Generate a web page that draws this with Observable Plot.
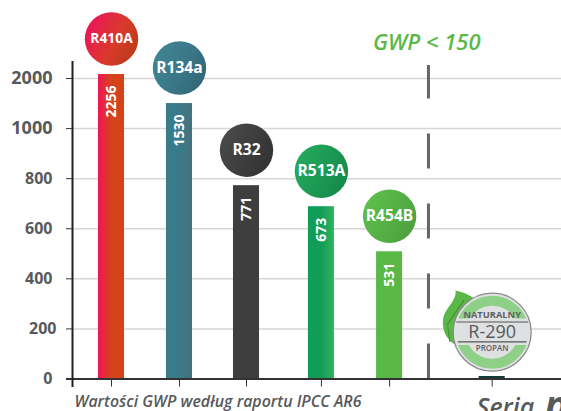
<!DOCTYPE html>
<html><head><meta charset="utf-8">
<script src="https://cdn.jsdelivr.net/npm/d3@7"></script>
<script src="https://cdn.jsdelivr.net/npm/@observablehq/plot@0.6"></script>
<style>html,body{margin:0;padding:0;background:#fff}svg{display:block}</style>
</head><body><div id="chart"></div>
<script>
const names = ["R410A","R134a","R32","R513A","R454B"];
const gwpLabels = [2256,1530,771,673,531];
const barTops = [2080,1500,772,688,508];
const slots = [0,1.007,2,3.11,4.12];
const naturalSlot = 5.64;
const naturalTop = 10;
const dividerSlot = 4.696;
const yTicks = [0,200,400,600,800,1000,2000];
const barGradients = [["#ef1458","#d5431b","#d5431b"],["#3a7b8a","#3a7b8a","#46707c"],["#3e3e3e","#3e3e3e","#3e3e3e"],["#119c58","#119c58","#2eb35e"],["#5ab847","#5ab847","#5ab847"]];
const dotGradients = [["#ea1a55","#d93a2a","#b03c16"],["#3f8393","#397686","#2f6272"],["#484848","#3c3c3c","#303030"],["#23a85c","#1b9753","#128448"],["#5cbd4a","#54ae44","#4a9c3c"]];

// the axis is not linear: its ticks are evenly spaced, so values are placed by tick level
const level = d3.scaleLinear(yTicks, yTicks.map((_,i)=>i));
const rows = names.map((name,i)=>({name,label:gwpLabels[i],top:level(barTops[i]),slot:slots[i],i}));
const halfBar = 0.193;

function defs(){
  const d = d3.create("svg:defs");
  const add=(id,stops,x1,y1,x2,y2)=>{
    const g=d.append("linearGradient").attr("id",id).attr("x1",x1).attr("y1",y1).attr("x2",x2).attr("y2",y2);
    stops.forEach((c,k)=>g.append("stop").attr("offset",k/(stops.length-1)).attr("stop-color",c));
  };
  barGradients.forEach((s,i)=>add("bar"+i,s,0,0,1,0));
  dotGradients.forEach((s,i)=>add("dot"+i,s,0,0.45,1,0.95));
  return d.node();
}

const band = {draw(c,size){const R=Math.sqrt(size/Math.PI),t=-0.36,b=0.34;
  const a1=Math.asin(t),a2=Math.asin(b);
  c.moveTo(R*Math.cos(a1),R*t);
  c.arc(0,0,R,a1,a2);
  c.lineTo(-R*Math.cos(a2),R*b);
  c.arc(0,0,R,Math.PI-a2,Math.PI-a1);
  c.closePath();}};
const bandLines = {draw(c,size){const R=Math.sqrt(size/Math.PI);
  c.moveTo(-0.92*R,-0.26*R);c.lineTo(0.92*R,-0.26*R);
  c.moveTo(-0.88*R,0.25*R);c.lineTo(0.88*R,0.25*R);}};
const leaf = {draw(c,size){const R=Math.sqrt(size/Math.PI);
  c.moveTo(-0.94*R,-1.07*R);
  c.bezierCurveTo(-0.6*R,-1.0*R,-0.42*R,-0.85*R,-0.3*R,-0.7*R);
  c.lineTo(-0.9*R,0.3*R);
  c.lineTo(-1.0*R,0.29*R);
  c.bezierCurveTo(-1.2*R,0.15*R,-1.29*R,-0.1*R,-1.26*R,-0.33*R);
  c.bezierCurveTo(-1.22*R,-0.62*R,-0.9*R,-0.8*R,-0.94*R,-1.07*R);
  c.closePath();}};
const vein = {draw(c,size){const R=Math.sqrt(size/Math.PI);
  c.moveTo(-1.16*R,-0.18*R);c.lineTo(-0.72*R,-0.82*R);
  c.moveTo(-1.08*R,0.25*R);c.lineTo(-1.14*R,-0.15*R);}};

const ink="#58595b", font="Open Sans";
const badgeY=level(187);
const tickText=d=>String(yTicks[d]);
const chart = Plot.plot({
  width:561,height:411,
  marginLeft:72,marginRight:0,marginTop:0,marginBottom:32.5,
  style:{fontFamily:font,background:"#fff"},
  x:{domain:[-0.578,6.667],axis:null},
  y:{domain:[0,yTicks.length-1],range:[378.5,78],axis:null},
  color:{type:"identity"},
  marks:[
    defs,
    Plot.ruleY(yTicks.slice(1).map(level),{stroke:"#d6d6d6",strokeWidth:1.5}),
    Plot.ruleX([dividerSlot],{y1:level(0),y2:level(2260),stroke:"#666",strokeWidth:3,strokeDasharray:"35 35"}),
    Plot.rect(rows,{x1:d=>d.slot-halfBar,x2:d=>d.slot+halfBar,y1:level(0),y2:"top",fill:d=>`url(#bar${d.i})`}),
    Plot.rect([level(naturalTop)],{x1:naturalSlot-halfBar,x2:naturalSlot+halfBar,y1:level(0),y2:d=>d,fill:"#123c3c"}),
    Plot.ruleY([level(0)],{x1:-0.667,x2:6.667,stroke:"#333",strokeWidth:2}),
    Plot.ruleX([-0.578],{y1:level(-34),y2:level(2340),stroke:"#231f20",strokeWidth:2}),
    Plot.axisX({ticks:[...slots,naturalSlot],tickSize:8,tickPadding:0,tickFormat:()=>"",label:null,stroke:"#333"}),
    Plot.axisY({ticks:[2000,1000].map(level),tickSize:6,tickPadding:14,tickFormat:tickText,label:null,fontSize:18,fontWeight:700,fill:ink,stroke:"#333"}),
    Plot.axisY({ticks:[800,600,400,0].map(level),tickSize:6,tickPadding:14,tickFormat:tickText,label:null,fontSize:16,fontWeight:700,fill:ink,stroke:"#333"}),
    Plot.axisY({ticks:[200].map(level),tickSize:6,tickPadding:10,tickFormat:tickText,label:null,fontSize:16,fontWeight:700,fill:ink,stroke:"#333"}),
    Plot.text(rows,{x:"slot",y:"top",text:d=>String(d.label),rotate:-90,textAnchor:"end",dy:11,fontSize:14,fontWeight:700,fill:"#fff"}),
    Plot.dot(rows,{x:"slot",y:"top",dy:-35.5,r:26.7,fill:d=>`url(#dot${d.i})`,stroke:"none"}),
    Plot.text(rows,{filter:d=>d.i===0,x:"slot",y:"top",dy:-35.5,text:"name",fontSize:13.8,fontWeight:700,fill:"#fff"}),
    Plot.text(rows,{filter:d=>d.i>0,x:"slot",y:"top",dy:-35.5,text:"name",fontSize:15.6,fontWeight:700,fill:"#fff"}),
    Plot.text(["GWP < 150"],{x:()=>4.67,frameAnchor:"top",dy:34,fontSize:22,fontStyle:"italic",fontWeight:600,fill:"#5ab947"}),
    // natural refrigerant badge
    Plot.dot([naturalSlot],{x:d=>d,y:()=>badgeY,r:39,symbol:leaf,fill:"#5ab847",stroke:"none"}),
    Plot.dot([naturalSlot],{x:d=>d,y:()=>badgeY,r:39,symbol:vein,fill:"none",stroke:"#4a8f3c",strokeWidth:1.2}),
    Plot.dot([naturalSlot],{x:d=>d,y:()=>badgeY,r:39,fill:"#dfe0e2",stroke:"#8a8a8c",strokeWidth:1.3}),
    Plot.dot([naturalSlot],{x:d=>d,y:()=>badgeY,r:31.5,fill:"none",stroke:"#8fd088",strokeWidth:10}),
    Plot.dot([naturalSlot],{x:d=>d,y:()=>badgeY,r:38,symbol:band,fill:"#dfe0e2",stroke:"none"}),
    Plot.dot([naturalSlot],{x:d=>d,y:()=>badgeY,r:39,symbol:bandLines,fill:"none",stroke:"#555",strokeWidth:1.1}),
    Plot.text(["NATURALNY"],{x:()=>naturalSlot,y:()=>badgeY,dy:-17,fontSize:9.3,fontWeight:700,fill:"#5f6062"}),
    Plot.text(["R-290"],{x:()=>naturalSlot,y:()=>badgeY,dy:0,fontSize:18,fill:ink}),
    Plot.text(["PROPAN"],{x:()=>naturalSlot,y:()=>badgeY,dy:16.5,fontSize:8,fontWeight:600,fill:"#5f6062"}),
    // footer texts
    Plot.text(["Wartości GWP według raportu IPCC AR6"],{frameAnchor:"bottom-left",dx:2,dy:27.5,textAnchor:"start",fontSize:15.9,fontStyle:"italic",fontWeight:600,fill:ink}),
    Plot.text(["Seria"],{frameAnchor:"bottom-left",dx:404,dy:37,textAnchor:"start",fontSize:25,fontStyle:"italic",fontWeight:600,fill:ink}),
    Plot.text(["p"],{frameAnchor:"bottom-left",dx:472,dy:40,textAnchor:"start",fontSize:40,fontStyle:"italic",fontWeight:700,fill:ink})
  ]
});
document.getElementById("chart").appendChild(chart);
</script></body></html>
